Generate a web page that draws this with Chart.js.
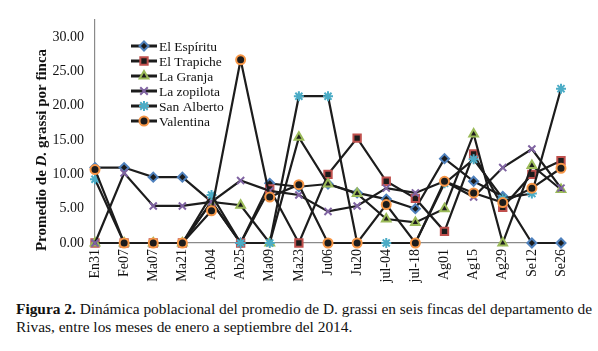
<!DOCTYPE html>
<html>
<head>
<meta charset="utf-8">
<script src="https://cdn.jsdelivr.net/npm/chart.js@4.4.1/dist/chart.umd.min.js"></script>
<style>
    body { margin: 0; background: #fff; width: 598px; height: 351px; position: relative; overflow: hidden; }
    #chart { position: absolute; left: 0; top: 0; }
    .caption {
        position: absolute; left: 16px; top: 300px; width: 590px;
        font-family: 'Liberation Serif', 'Times New Roman', serif;
        font-size: 15.4px; line-height: 18px; color: #111; white-space: nowrap;
    }
</style>
</head>
<body>
<canvas id="chart" width="598" height="290"></canvas>
<div class="caption"><b>Figura 2.</b> Dinámica poblacional del promedio de D. grassi en seis fincas del departamento de<br>Rivas, entre los meses de enero a septiembre del 2014.</div>
<script>
// Data
const fechas = ['En31', 'Fe07', 'Ma07', 'Ma21', 'Ab04', 'Ab25', 'Ma09', 'Ma23', 'Ju06', 'Ju20',
    'jul-04', 'jul-18', 'Ag01', 'Ag15', 'Ag29', 'Se12', 'Se26'];

const elEspiritu = [11.0, 11.0, 9.6, 9.6, 6.0, 0, 8.7, 8.2, 8.6, 7.3, 6.4, 5.0, 12.3, 9.0, 6.8, 0, 0];
const elTrapiche = [0, 0, 0, 0, 6.0, 0, 7.9, 0, 10.0, 15.3, 9.0, 6.5, 1.7, 13.0, 5.2, 10.0, 12.0];
const laGranja = [0, 0, 0, 0, 6.0, 5.5, 0, 15.4, 8.6, 7.2, 3.5, 3.0, 5.0, 15.9, 0, 11.3, 7.8];
const laZopilota = [0, 10.2, 5.4, 5.4, 6.0, 9.1, 7.6, 7.0, 4.6, 5.4, 8.0, 7.3, 9.0, 6.7, 11.0, 13.7, 8.0];
const sanAlberto = [9.3, 0, 0, 0, 7.0, 0, 0, 21.4, 21.4, 0, 0, 0, 8.7, 12.2, 6.5, 7.2, 22.5];
const valentina = [10.7, 0, 0, 0, 4.7, 26.7, 6.7, 8.5, 0, 0, 5.6, 0, 9.0, 7.3, 5.9, 8.0, 10.9];

const yTicks = [0, 5, 10, 15, 20, 25, 30];

const serif = "'Liberation Serif', 'Times New Roman', serif";
const lineColor = '#1c1c1c';

function serie(label, data, style, color, radius, idx) {
    return {
        label: label,
        data: data,
        order: 10 - idx, // later series drawn on top, like the original
        borderColor: lineColor,
        borderWidth: 2.2,
        pointStyle: style,
        pointRadius: radius,
        pointHoverRadius: radius,
        pointBorderColor: color,
        pointBackgroundColor: lineColor,
        pointBorderWidth: 2,
        tension: 0,
        clip: false
    };
}

const datasets = [
    serie('El Espíritu', elEspiritu, 'rectRot', '#4f81bd', 4.5, 0),
    serie('El Trapiche', elTrapiche, 'rect', '#c0504d', 5.2, 1),
    serie('La Granja', laGranja, 'triangle', '#9bbb59', 5, 2),
    serie('La zopilota', laZopilota, 'crossRot', '#8064a2', 5, 3),
    serie('San Alberto', sanAlberto, 'star', '#4bacc6', 5, 4),
    serie('Valentina', valentina, 'circle', '#f79646', 4.5, 5)
];

// small marker drawing for the legend
function drawMarker(ctx, ds, x, y) {
    const r = ds.pointRadius;
    ctx.save();
    ctx.strokeStyle = ds.pointBorderColor;
    ctx.fillStyle = ds.pointBackgroundColor;
    ctx.lineWidth = ds.pointBorderWidth;
    ctx.beginPath();
    switch (ds.pointStyle) {
        case 'rectRot':
            ctx.moveTo(x, y - r); ctx.lineTo(x + r, y); ctx.lineTo(x, y + r); ctx.lineTo(x - r, y); ctx.closePath();
            ctx.fill(); ctx.stroke();
            break;
        case 'rect': {
            const s = r * Math.SQRT1_2;
            ctx.rect(x - s, y - s, 2 * s, 2 * s);
            ctx.fill(); ctx.stroke();
            break;
        }
        case 'triangle':
            ctx.moveTo(x, y - r); ctx.lineTo(x + r * 0.87, y + r * 0.5); ctx.lineTo(x - r * 0.87, y + r * 0.5); ctx.closePath();
            ctx.fill(); ctx.stroke();
            break;
        case 'crossRot': {
            const s = r * 0.75;
            ctx.moveTo(x - s, y - s); ctx.lineTo(x + s, y + s);
            ctx.moveTo(x + s, y - s); ctx.lineTo(x - s, y + s);
            ctx.stroke();
            break;
        }
        case 'star': {
            const s = r * 0.75;
            ctx.moveTo(x - s, y - s); ctx.lineTo(x + s, y + s);
            ctx.moveTo(x + s, y - s); ctx.lineTo(x - s, y + s);
            ctx.moveTo(x, y - r); ctx.lineTo(x, y + r);
            ctx.moveTo(x - r, y); ctx.lineTo(x + r, y);
            ctx.stroke();
            break;
        }
        default:
            ctx.arc(x, y, r, 0, Math.PI * 2);
            ctx.fill(); ctx.stroke();
    }
    ctx.restore();
}

// Legend inside the plot + y axis title with italic "D."
const extras = {
    id: 'extras',
    afterDatasetsDraw(chart) {
        const ctx = chart.ctx;
        ctx.save();
        ctx.font = '13.5px ' + serif;
        ctx.textBaseline = 'middle';
        chart.data.datasets.forEach((ds, i) => {
            const y = 46 + i * 15;
            ctx.strokeStyle = lineColor;
            ctx.lineWidth = 3;
            ctx.beginPath();
            ctx.moveTo(131, y);
            ctx.lineTo(157, y);
            ctx.stroke();
            drawMarker(ctx, ds, 144, y);
            ctx.fillStyle = '#111';
            ctx.fillText(ds.label, 159, y + 1);
        });

        // y axis title
        const parts = [
            { t: 'Promedio de ', f: 'bold 15px ' + serif },
            { t: 'D.', f: 'italic bold 15px ' + serif },
            { t: ' grassi por finca', f: 'bold 15px ' + serif }
        ];
        let total = 0;
        parts.forEach(p => { ctx.font = p.f; p.w = ctx.measureText(p.t).width; total += p.w; });
        ctx.translate(42, 150);
        ctx.rotate(-Math.PI / 2);
        ctx.fillStyle = '#111';
        let x = -total / 2;
        parts.forEach(p => {
            ctx.font = p.f;
            ctx.fillText(p.t, x, 0);
            x += p.w;
        });
        ctx.restore();
    }
};

new Chart(document.getElementById('chart').getContext('2d'), {
    type: 'line',
    data: { labels: fechas, datasets: datasets },
    options: {
        responsive: false,
        animation: false,
        layout: { padding: { top: 3, left: 0, right: 37, bottom: 0 } },
        scales: {
            x: {
                grid: { display: false, drawTicks: false },
                border: { display: true, color: '#8a8a8a', width: 1.2 },
                afterFit: (scale) => { scale.height = 47; },
                ticks: {
                    autoSkip: false,
                    maxRotation: 90,
                    minRotation: 90,
                    padding: 6,
                    color: '#111',
                    font: { family: serif, size: 14 }
                }
            },
            y: {
                min: 0,
                max: 32.6,
                grid: { display: false, drawTicks: false },
                border: { display: true, color: '#8a8a8a', width: 1.2 },
                afterFit: (scale) => { scale.width = 95; },
                afterBuildTicks: (scale) => { scale.ticks = yTicks.map(v => ({ value: v })); },
                ticks: {
                    padding: 11,
                    color: '#111',
                    font: { family: serif, size: 14 },
                    callback: (v) => Number(v).toFixed(2)
                }
            }
        },
        plugins: {
            legend: { display: false },
            tooltip: { enabled: false }
        }
    },
    plugins: [extras]
});
</script>
</body>
</html>
